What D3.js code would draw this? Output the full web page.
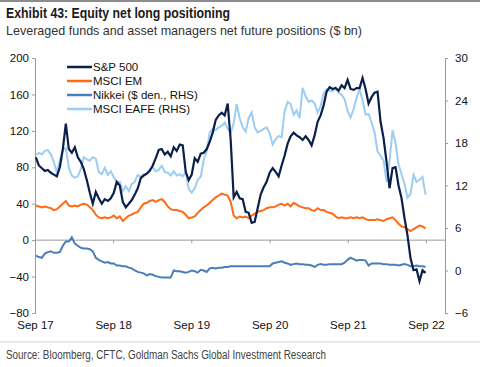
<!DOCTYPE html>
<html>
<head>
<meta charset="utf-8">
<script src="https://d3js.org/d3.v7.min.js"></script>
<style>
  body { margin: 0; background: #fff; }
  svg { display: block; }
</style>
</head>
<body>
<svg id="chart" width="480" height="367"></svg>
<script>
// fortnightly readings, Sep 2017 - Aug 2022
var startDate = new Date(2017, 8, 5);
var stepDays = 14;

// S&P 500, $ bn (left axis)
var spx = [91, 82, 79, 76, 77, 74, 72, 70, 80, 100, 128, 100, 96, 102, 91, 86, 78, 66, 52, 40,
  53, 46, 40, 45, 43, 46, 52, 64, 60, 42, 36, 40, 44, 50, 57, 68, 71, 73, 76, 82,
  90, 99, 100, 94, 97, 92, 102, 98, 105, 104, 75, 66, 72, 90, 86, 95, 96, 100, 108, 118,
  132, 137, 140, 137, 150, 110, 47, 53, 46, 45, 31, 30, 19, 20, 35, 50, 58, 64, 74, 79,
  75, 70, 82, 93, 106, 114, 118, 115, 113, 110, 114, 110, 104, 115, 130, 137, 148, 163, 168, 166,
  167, 164, 170, 167, 176, 166, 165, 167, 167, 178, 166, 150, 157, 162, 163, 130, 112, 86, 57, 79,
  80, 60, 46, 24, 5, -20, -33, -32, -45, -33, -36];

// MSCI EM, $ bn (left axis)
var msciEm = [38, 37, 36, 37, 36, 35, 33, 34, 37, 40, 43, 38, 37, 38, 37, 39, 40, 39, 36, 33,
  28, 25, 24, 25, 24, 25, 27, 24, 26, 21, 24, 27, 28, 30, 31, 36, 40, 41, 43, 44,
  42, 44, 45, 42, 37, 34, 33, 33, 32, 31, 28, 24, 25, 26, 30, 33, 36, 38, 41, 44,
  47, 49, 51, 50, 49, 42, 27, 24, 26, 25, 26, 24, 27, 29, 31, 32, 33, 35, 36, 36,
  37, 39, 40, 38, 40, 37, 41, 39, 37, 36, 35, 35, 33, 32, 35, 33, 33, 31, 30, 29,
  26, 24, 25, 24, 24, 25, 24, 25, 24, 25, 23, 22, 22, 22, 23, 22, 21, 23, 24, 25,
  22, 18, 15, 14, 12, 10, 12, 14, 16, 15, 13];

// Nikkei, $ bn (right axis)
var nikkei = [2.1, 1.9, 1.8, 2.4, 2.6, 2.7, 2.5, 2.5, 2.6, 3.5, 4.1, 4.1, 4.7, 3.8, 3.5, 3.2, 3.1, 3.1, 3.0, 2.7,
  1.8, 1.5, 1.3, 1.1, 1.2, 1.0, 1.0, 0.7, 0.7, 0.6, 0.6, 0.4, 0.3, 0.0, -0.2, -0.3, -0.4, -0.7, -0.5, -0.6,
  -0.8, -0.9, -1.0, -1.0, -1.0, -1.0, 0.0, -0.1, -0.1, -0.2, -0.3, -0.2, 0.0, -0.1, -0.3, 0.1, 0.0, -0.2, 0.3, 0.4,
  0.3, 0.4, 0.4, 0.5, 0.5, 0.6, 0.6, 0.6, 0.6, 0.6, 0.6, 0.6, 0.6, 0.6, 0.6, 0.6, 0.6, 0.6, 0.6, 1.0,
  1.1, 1.2, 1.3, 1.1, 1.0, 0.8, 0.9, 1.0, 0.9, 0.9, 0.8, 0.8, 0.7, 0.5, 0.8, 0.9, 0.8, 0.8, 0.9, 0.9,
  0.9, 0.9, 0.9, 1.1, 1.5, 1.8, 1.6, 1.4, 1.5, 1.5, 1.4, 0.7, 1.0, 1.0, 1.0, 1.0, 0.9, 0.9, 0.8, 0.8,
  0.8, 0.7, 0.8, 0.9, 0.8, 0.6, 0.6, 0.7, 0.6, 0.6, 0.5];

// MSCI EAFE, $ bn (right axis)
var eafe = [16.3, 16.6, 16.4, 16.9, 17.0, 16.4, 15.3, 13.9, 15.5, 17.0, 17.3, 14.5, 13.4, 13.1, 13.3, 14.3, 16.0, 15.7, 15.5, 16.0,
  15.8, 13.9, 13.6, 14.5, 13.5, 14.0, 13.2, 12.4, 12.5, 11.2, 11.9, 11.2, 12.2, 12.5, 13.5, 13.2, 13.6, 13.6, 14.3, 14.6,
  14.0, 14.2, 14.8, 13.9, 13.8, 13.4, 14.0, 13.4, 13.6, 13.3, 13.9, 11.5, 11.0, 11.6, 12.8, 13.2, 15.6, 16.8, 19.5, 20.0,
  19.8, 20.2, 20.4, 20.9, 20.0, 19.4, 20.8, 23.5, 21.5, 20.2, 19.6, 21.5, 22.3, 20.2, 19.5, 19.7, 20.0, 20.2, 19.4, 17.8,
  18.5, 19.0, 18.8, 22.5, 23.8, 23.5, 22.0, 22.6, 21.5, 25.8, 24.6, 23.8, 24.0, 23.6, 22.3, 23.2, 25.0, 25.6, 25.4, 25.3,
  25.8, 25.1, 24.8, 24.2, 22.5, 21.6, 22.8, 24.4, 25.6, 24.0, 22.0, 22.1, 20.9, 19.5, 16.8, 16.2, 15.5, 12.5, 15.5, 19.8,
  18.0, 15.0, 13.6, 12.2, 10.3, 10.8, 13.5, 12.5, 12.8, 13.2, 10.7];

var leftTicks = [200, 160, 120, 80, 40, 0, -40, -80];
var rightTicks = [30, 24, 18, 12, 6, 0, -6];
var yearTicks = [2017, 2018, 2019, 2020, 2021, 2022];

var legendNames = ["S&P 500", "MSCI EM", "Nikkei ($ den., RHS)", "MSCI EAFE (RHS)"];
var colors = ["#0b1f4b", "#ff6a13", "#4a7ebb", "#9dcdf2"];

var narrow = "'Liberation Sans Narrow', 'Arial Narrow', 'Liberation Sans', Arial, sans-serif";
var plain = "'Liberation Sans', Arial, sans-serif";

var svg = d3.select("#chart");
var dates = spx.map(function(d, i) { return d3.timeDay.offset(startDate, i * stepDays); });

var x = d3.scaleTime()
  .domain([new Date(2017, 8, 1), new Date(2022, 10, 29)])
  .range([35, 445]);
var yL = d3.scaleLinear().domain([-80, 200]).range([313, 58]);
var yR = d3.scaleLinear().domain([-6, 30]).range([313, 58]);

// top rule and titles (squeezed to the narrow face of the original)
svg.append("rect").attr("x", 0).attr("y", 0).attr("width", 480).attr("height", 2).attr("fill", "#8c8c8c");

svg.append("text").attr("x", 6).attr("y", 18)
  .style("font-family", narrow).style("font-weight", "bold").style("font-size", "15px")
  .attr("fill", "#1a1a1a")
  .attr("textLength", 224).attr("lengthAdjust", "spacingAndGlyphs")
  .text("Exhibit 43: Equity net long positioning");

svg.append("text").attr("x", 6).attr("y", 35)
  .style("font-family", narrow).style("font-size", "13.5px")
  .attr("fill", "#333")
  .attr("textLength", 356).attr("lengthAdjust", "spacingAndGlyphs")
  .text("Leveraged funds and asset managers net future positions ($ bn)");

// axes
var leftAxis = d3.axisLeft(yL).tickValues(leftTicks).tickSize(3).tickPadding(3);
var gl = svg.append("g").attr("transform", "translate(35,0)").call(leftAxis);

var rightAxis = d3.axisRight(yR).tickValues(rightTicks).tickSize(3).tickPadding(7);
var gr = svg.append("g").attr("transform", "translate(445,0)").call(rightAxis);

var bottomAxis = d3.axisBottom(x)
  .tickValues(yearTicks.map(function(y) { return new Date(y, 8, 1); }))
  .tickFormat(d3.timeFormat("Sep %y"))
  .tickSize(3).tickPadding(0);
var gb = svg.append("g").attr("transform", "translate(0," + yL(0) + ")").call(bottomAxis);
gb.select(".domain").remove();
gb.selectAll("text").attr("dy", 0).attr("y", 89);

[gl, gr, gb].forEach(function(g) {
  g.selectAll(".domain").attr("stroke", "#9a9a9a");
  g.selectAll(".tick line").attr("stroke", "#9a9a9a");
  g.selectAll("text").style("font-family", plain).style("font-size", "11.5px").attr("fill", "#111");
});

// zero line
svg.append("line")
  .attr("x1", 35).attr("x2", 445)
  .attr("y1", yL(0)).attr("y2", yL(0))
  .attr("stroke", "#9a9a9a").attr("stroke-width", 1);

// lines
var lineL = d3.line().x(function(d, i) { return x(dates[i]); }).y(function(d) { return yL(d); });
var lineR = d3.line().x(function(d, i) { return x(dates[i]); }).y(function(d) { return yR(d); });

svg.append("path").datum(eafe).attr("d", lineR)
  .attr("fill", "none").attr("stroke", colors[3]).attr("stroke-width", 2);
svg.append("path").datum(nikkei).attr("d", lineR)
  .attr("fill", "none").attr("stroke", colors[2]).attr("stroke-width", 2);
svg.append("path").datum(msciEm).attr("d", lineL)
  .attr("fill", "none").attr("stroke", colors[1]).attr("stroke-width", 2);
svg.append("path").datum(spx).attr("d", lineL)
  .attr("fill", "none").attr("stroke", colors[0]).attr("stroke-width", 2.2);

// legend
var leg = svg.append("g").selectAll("g").data(legendNames).enter().append("g")
  .attr("transform", function(d, i) { return "translate(67," + (67 + i * 14) + ")"; });
leg.append("line").attr("x1", 0).attr("x2", 25).attr("y1", 0).attr("y2", 0)
  .attr("stroke", function(d, i) { return colors[i]; }).attr("stroke-width", 2.5);
leg.append("text").attr("x", 26).attr("y", 4)
  .style("font-family", plain).style("font-size", "11.5px").attr("fill", "#111")
  .text(function(d) { return d; });

// source
svg.append("line").attr("x1", 0).attr("x2", 480).attr("y1", 342).attr("y2", 342)
  .attr("stroke", "#cfcfcf");
svg.append("text").attr("x", 6).attr("y", 359)
  .style("font-family", narrow).style("font-size", "12px").attr("fill", "#444")
  .attr("textLength", 320).attr("lengthAdjust", "spacingAndGlyphs")
  .text("Source: Bloomberg, CFTC, Goldman Sachs Global Investment Research");
</script>
</body>
</html>
